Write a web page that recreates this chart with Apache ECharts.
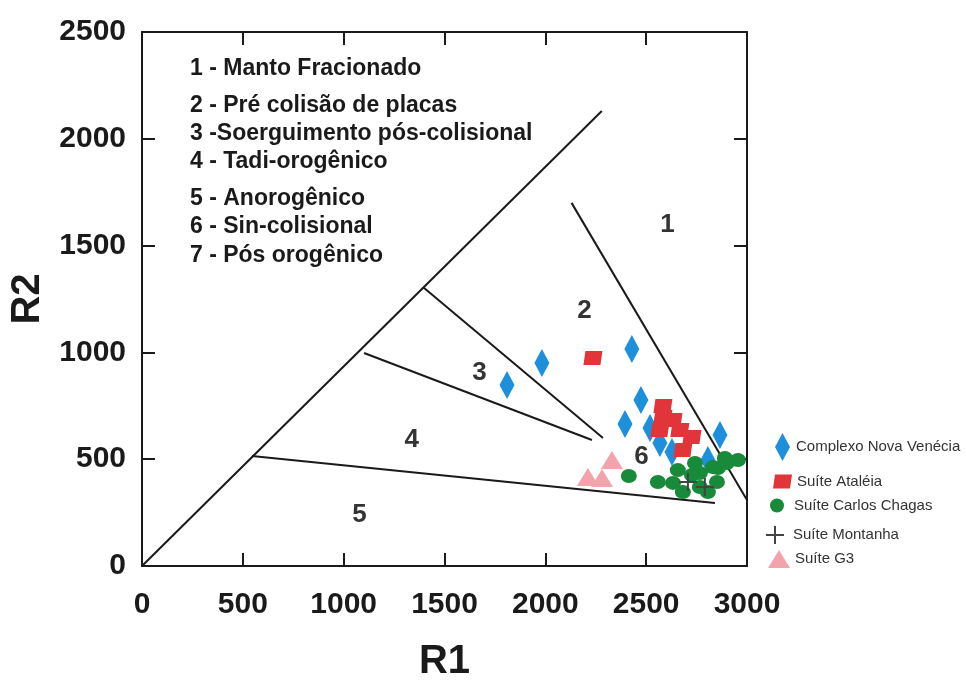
<!DOCTYPE html>
<html>
<head>
<meta charset="utf-8">
<script src="https://cdn.jsdelivr.net/npm/echarts@6/dist/echarts.min.js"></script>
<style>
  html, body { margin: 0; padding: 0; background: #ffffff; }
  #chart { width: 966px; height: 684px; }
</style>
</head>
<body>
<div id="chart"></div>
<script>
// R1–R2 tectonic discrimination diagram (Batchelor & Bowden style)

// Axis ranges and ticks
const r1Ticks = [0, 500, 1000, 1500, 2000, 2500, 3000];
const r2Ticks = [0, 500, 1000, 1500, 2000, 2500];

// Field boundaries, [R1, R2]
const boundaryMain = [[0, 0], [2280, 2130]];
const boundary12 = [[2130, 1700], [3000, 309]];
const boundary23 = [[1393, 1306], [2286, 599]];
const boundary34 = [[1101, 997], [2231, 590]];
const boundary45 = [[545, 515], [2841, 295]];

// Field numbers and their positions
const fieldNames = ['1', '2', '3', '4', '5', '6'];
const fieldR1 = [2608, 2196, 1676, 1340, 1081, 2479];
const fieldR2 = [1597, 1194, 904, 590, 239, 510];

// Field legend inside the plot
const fieldKey = [
  '1 - Manto Fracionado',
  '2 - Pré colisão de placas',
  '3 -Soerguimento pós-colisional',
  '4 - Tadi-orogênico',
  '5 - Anorogênico',
  '6 - Sin-colisional',
  '7 - Pós orogênico'
];

// Samples, [R1, R2]
const novaVenecia = [
  [1810, 847], [1983, 950], [2429, 1016], [2474, 777], [2395, 665],
  [2519, 646], [2568, 576], [2628, 534], [2866, 613], [2806, 496]
];
const atalea = [
  [2236, 974], [2583, 749], [2583, 698], [2633, 684], [2667, 637],
  [2727, 604], [2682, 543], [2568, 637]
];
const carlosChagas = [
  [2414, 421], [2558, 393], [2657, 449], [2742, 482], [2633, 389],
  [2682, 346], [2727, 426], [2766, 370], [2806, 346], [2851, 393],
  [2856, 459], [2900, 482], [2955, 496], [2766, 435], [2831, 463],
  [2890, 506]
];
const montanha = [[2707, 393], [2791, 370]];
const suiteG3 = [[2330, 496], [2211, 417], [2281, 412]];

const seriesNames = [
  'Complexo Nova Venécia', 'Suíte Ataléia', 'Suíte Carlos Chagas',
  'Suíte Montanha', 'Suíte G3'
];

const FONT = "'Liberation Sans', Arial, sans-serif";
const INK = '#1a1a1a';

const crossPath = 'path://M8,0H10V8H18V10H10V18H8V10H0V8H8Z';
const squarePath = 'path://M2,0H19L17,14H0Z';

function boundary(pts) {
  return {
    type: 'line', data: pts, symbol: 'none', silent: true, z: 1,
    lineStyle: { color: INK, width: 2 }
  };
}

function legendAt(name, left, top, w, h, pad) {
  return {
    data: [name], left: left, top: top, itemWidth: w, itemHeight: h,
    padding: 0, selectedMode: false,
    textStyle: { fontFamily: FONT, fontSize: 15, color: '#333', padding: [0, 0, 0, pad] }
  };
}

const axisLineStyle = { show: true, onZero: false, lineStyle: { color: INK, width: 2 } };
const tickStyle = { show: true, inside: true, length: 13, lineStyle: { color: INK, width: 2 } };
const labelFont = {
  fontFamily: FONT, fontSize: 30, fontWeight: 'bold', color: INK,
  formatter: function (v) { return String(v); }
};

const chart = echarts.init(document.getElementById('chart'), null, { renderer: 'canvas' });

chart.setOption({
  backgroundColor: '#ffffff',
  animation: false,
  grid: { left: 142, right: 219, top: 32, bottom: 118, containLabel: false, outerBoundsMode: 'none' },
  xAxis: [
    {
      type: 'value', position: 'bottom',
      min: r1Ticks[0], max: r1Ticks[r1Ticks.length - 1], interval: r1Ticks[1] - r1Ticks[0],
      axisLine: axisLineStyle, axisTick: tickStyle, splitLine: { show: false },
      axisLabel: Object.assign({ margin: 24 }, labelFont),
      name: 'R1', nameLocation: 'middle', nameGap: 76,
      nameTextStyle: { fontFamily: FONT, fontSize: 40, fontWeight: 'bold', color: INK }
    },
    {
      type: 'value', position: 'top',
      min: r1Ticks[0], max: r1Ticks[r1Ticks.length - 1], interval: r1Ticks[1] - r1Ticks[0],
      axisLine: axisLineStyle, axisTick: tickStyle, splitLine: { show: false },
      axisLabel: { show: false }
    }
  ],
  yAxis: [
    {
      type: 'value', position: 'left',
      min: r2Ticks[0], max: r2Ticks[r2Ticks.length - 1], interval: r2Ticks[1] - r2Ticks[0],
      axisLine: axisLineStyle, axisTick: tickStyle, splitLine: { show: false },
      axisLabel: Object.assign({ margin: 16 }, labelFont),
      name: 'R2', nameLocation: 'middle', nameGap: 84,
      nameTextStyle: { fontFamily: FONT, fontSize: 40, fontWeight: 'bold', color: INK }
    },
    {
      type: 'value', position: 'right',
      min: r2Ticks[0], max: r2Ticks[r2Ticks.length - 1], interval: r2Ticks[1] - r2Ticks[0],
      axisLine: axisLineStyle, axisTick: tickStyle, splitLine: { show: false },
      axisLabel: { show: false }
    }
  ],
  legend: [
    legendAt(seriesNames[0], 775, 433, 15, 28, 1),
    legendAt(seriesNames[1], 773, 474, 19, 14, 0),
    legendAt(seriesNames[2], 770, 498, 16, 14, 4),
    legendAt(seriesNames[3], 766, 526, 18, 18, 4),
    legendAt(seriesNames[4], 768, 550, 22, 18, 0)
  ],
  graphic: fieldKey.map(function (t, i) {
    const ys = [70, 107, 135, 163, 200, 228, 257];
    return {
      type: 'text', left: 190, top: ys[i] - 13,
      style: { text: t, fontFamily: FONT, fontSize: 23, fontWeight: 'bold', fill: INK }
    };
  }),
  series: [
    boundary(boundaryMain),
    boundary(boundary12),
    boundary(boundary23),
    boundary(boundary34),
    boundary(boundary45),
    {
      type: 'scatter', silent: true, symbolSize: 1, z: 2,
      itemStyle: { color: 'rgba(0,0,0,0)' },
      data: fieldNames.map(function (n, i) { return { name: n, value: [fieldR1[i], fieldR2[i]] }; }),
      label: {
        show: true, position: [0, 0], align: 'center', verticalAlign: 'middle',
        formatter: '{b}',
        fontFamily: FONT, fontSize: 26, fontWeight: 'bold', color: '#000000',
        textBorderWidth: 0
      }
    },
    {
      name: seriesNames[0], type: 'scatter', data: novaVenecia, z: 3,
      symbol: 'diamond', symbolSize: [15, 28],
      itemStyle: { color: '#1d8fdb', opacity: 1 }
    },
    {
      name: seriesNames[1], type: 'scatter', data: atalea, z: 4,
      symbol: squarePath, symbolSize: [19, 14], symbolKeepAspect: false,
      itemStyle: { color: '#e2353a', opacity: 1 }
    },
    {
      name: seriesNames[2], type: 'scatter', data: carlosChagas, z: 5,
      symbol: 'circle', symbolSize: [16, 14],
      itemStyle: { color: '#188a3a', opacity: 1 }
    },
    {
      name: seriesNames[3], type: 'scatter', data: montanha, z: 6,
      symbol: crossPath, symbolSize: [18, 18],
      itemStyle: { color: '#444444', opacity: 1 }
    },
    {
      name: seriesNames[4], type: 'scatter', data: suiteG3, z: 6,
      symbol: 'triangle', symbolSize: [22, 18],
      itemStyle: { color: '#f2a3ab', opacity: 1 }
    }
  ]
});
</script>
</body>
</html>
